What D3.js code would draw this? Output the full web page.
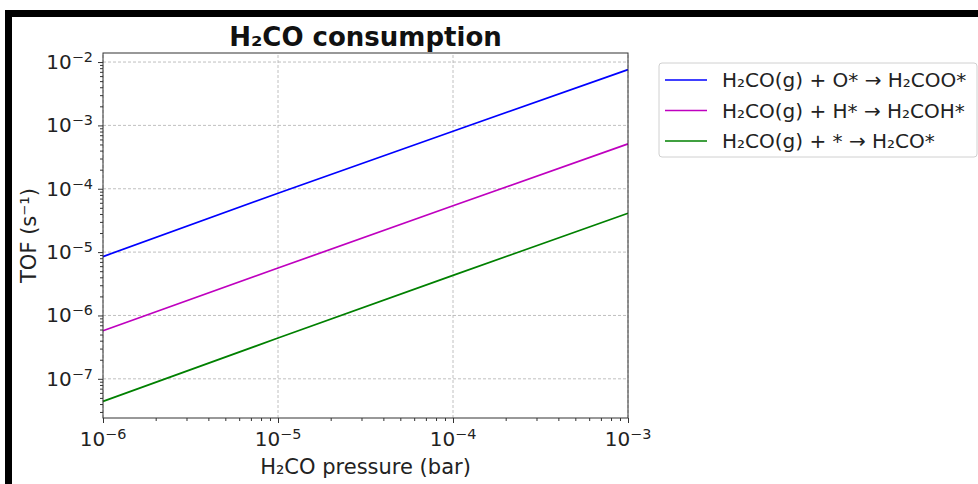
<!DOCTYPE html>
<html>
<head>
<meta charset="utf-8">
<script src="https://cdn.jsdelivr.net/npm/d3@7"></script>
<style>
  body { margin: 0; background: #fff; }
  svg { display: block; font-family: "DejaVu Sans", sans-serif; }
</style>
</head>
<body>
<div id="chart"></div>
<script>
// pressure (bar) and TOF (s^-1)
const pressures = [1e-6, 1e-5, 1e-4, 1e-3];
const tofOxygen = [8.5e-6, 8.5e-5, 8.1e-4, 7.6e-3];
const tofHydrogen = [5.75e-7, 5.6e-6, 5.4e-5, 5.1e-4];
const tofSite = [4.4e-8, 4.4e-7, 4.3e-6, 4.1e-5];
const seriesNames = ['H\u2082CO(g) + O* \u2192 H\u2082COO*', 'H\u2082CO(g) + H* \u2192 H\u2082COH*', 'H\u2082CO(g) + * \u2192 H\u2082CO*'];
const seriesColors = ['#0000ff', '#bf00bf', '#008000'];
const xTicks = [1e-6, 1e-5, 1e-4, 1e-3];
const yTicks = [1e-7, 1e-6, 1e-5, 1e-4, 1e-3, 1e-2];

const series = [tofOxygen, tofHydrogen, tofSite].map((vals, i) => ({
  name: seriesNames[i],
  color: seriesColors[i],
  values: vals.map((v, j) => ({p: pressures[j], tof: v}))
}));

const width = 978;
const height = 484;
const margin = {top: 53, right: 350, bottom: 66, left: 103};

const svg = d3.select('#chart')
  .append('svg')
  .attr('width', width)
  .attr('height', height);

// black frame of the screenshot
svg.append('rect').attr('x', 5).attr('y', 10).attr('width', 7).attr('height', height - 10).attr('fill', '#000');
svg.append('rect').attr('x', 5).attr('y', 10).attr('width', width - 5).attr('height', 7).attr('fill', '#000');

const x = d3.scaleLog()
  .domain([1e-6, 1e-3])
  .range([margin.left, width - margin.right]);

// matplotlib-like 5% margin in log space
const allTof = series.flatMap(s => s.values.map(d => Math.log10(d.tof)));
const lo = d3.min(allTof), hi = d3.max(allTof), pad = (hi - lo) * 0.05;
const y = d3.scaleLog()
  .domain([Math.pow(10, lo - pad), Math.pow(10, hi + pad)])
  .range([height - margin.bottom, margin.top]);

const x0 = margin.left, x1 = width - margin.right;
const y0 = height - margin.bottom, y1 = margin.top;

// grid
const grid = svg.append('g').attr('stroke', '#b0b0b0').attr('stroke-width', 0.8).attr('stroke-dasharray', '3,2');
grid.selectAll('.gx').data(xTicks).join('line')
  .attr('x1', d => x(d)).attr('x2', d => x(d)).attr('y1', y0).attr('y2', y1);
grid.selectAll('.gy').data(yTicks).join('line')
  .attr('y1', d => y(d)).attr('y2', d => y(d)).attr('x1', x0).attr('x2', x1);

// minor ticks
function minors(scale) {
  const [a, b] = scale.domain();
  const out = [];
  for (let e = Math.floor(Math.log10(a)); e <= Math.ceil(Math.log10(b)); e++) {
    for (let k = 2; k < 10; k++) {
      const v = k * Math.pow(10, e);
      if (v >= a && v <= b) out.push(v);
    }
  }
  return out;
}

const sup = d => {
  const e = Math.round(Math.log10(d));
  return '\u2212' + Math.abs(e);
};

function tickLabel(sel) {
  sel.each(function(d) {
    const t = d3.select(this);
    t.text(null);
    t.append('tspan').text('10');
    t.append('tspan').attr('dy', '-0.5em').attr('font-size', '0.72em').text(sup(d));
  });
}

const xAxis = svg.append('g').attr('transform', `translate(0,${y0})`);
xAxis.append('g').call(d3.axisBottom(x).tickValues(xTicks).tickSize(5).tickFormat(''))
  .call(g => g.select('.domain').remove())
  .call(g => g.selectAll('line').attr('stroke', '#333'));
xAxis.append('g').call(d3.axisBottom(x).tickValues(minors(x)).tickSize(3).tickFormat(''))
  .call(g => g.select('.domain').remove())
  .call(g => g.selectAll('line').attr('stroke', '#333'));
xAxis.selectAll('.xl').data(xTicks).join('text')
  .attr('x', d => x(d)).attr('y', 28)
  .attr('text-anchor', 'middle').attr('font-size', 20).attr('fill', '#222')
  .call(tickLabel);

const yAxis = svg.append('g').attr('transform', `translate(${x0},0)`);
yAxis.append('g').call(d3.axisLeft(y).tickValues(yTicks).tickSize(5).tickFormat(''))
  .call(g => g.select('.domain').remove())
  .call(g => g.selectAll('line').attr('stroke', '#333'));
yAxis.append('g').call(d3.axisLeft(y).tickValues(minors(y)).tickSize(3).tickFormat(''))
  .call(g => g.select('.domain').remove())
  .call(g => g.selectAll('line').attr('stroke', '#333'));
yAxis.selectAll('.yl').data(yTicks).join('text')
  .attr('x', -10).attr('y', d => y(d) + 7)
  .attr('text-anchor', 'end').attr('font-size', 20).attr('fill', '#222')
  .call(tickLabel);

// lines
const line = d3.line().x(d => x(d.p)).y(d => y(d.tof));
svg.append('g').selectAll('path').data(series).join('path')
  .attr('fill', 'none').attr('stroke', d => d.color).attr('stroke-width', 1.7)
  .attr('d', d => line(d.values));

// frame
svg.append('rect').attr('x', x0).attr('y', y1).attr('width', x1 - x0).attr('height', y0 - y1)
  .attr('fill', 'none').attr('stroke', '#333').attr('stroke-width', 1);

// title and labels
svg.append('text').attr('x', (x0 + x1) / 2).attr('y', 46).attr('text-anchor', 'middle')
  .attr('font-size', 26).attr('font-weight', 'bold').attr('fill', '#111').text('H\u2082CO consumption');
svg.append('text').attr('x', (x0 + x1) / 2).attr('y', 474).attr('text-anchor', 'middle')
  .attr('font-size', 21).attr('fill', '#222').text('H\u2082CO pressure (bar)');
svg.append('text').attr('transform', `translate(36,${(y0 + y1) / 2}) rotate(-90)`).attr('text-anchor', 'middle')
  .attr('font-size', 21).attr('fill', '#222').text('TOF (s\u207b\u00b9)');

// legend
const legend = svg.append('g').attr('transform', 'translate(659,63)');
legend.append('rect').attr('width', 318).attr('height', 94).attr('rx', 3)
  .attr('fill', '#fff').attr('stroke', '#d0d0d0');
const item = legend.selectAll('.item').data(series).join('g')
  .attr('transform', (d, i) => `translate(0,${17 + i * 30.5})`);
item.append('line').attr('x1', 6).attr('x2', 48).attr('stroke', d => d.color).attr('stroke-width', 1.7);
item.append('text').attr('x', 63).attr('y', 7).attr('font-size', 20).attr('fill', '#222').text(d => d.name);
</script>
</body>
</html>
